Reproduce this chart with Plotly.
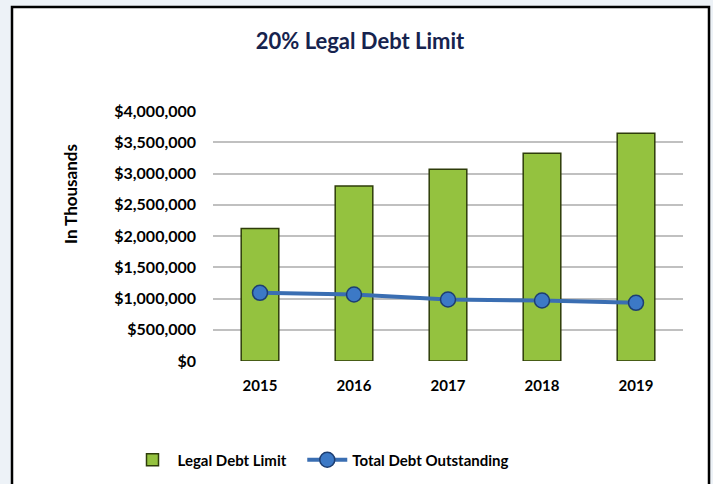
import plotly.graph_objects as go

years = ["2015", "2016", "2017", "2018", "2019"]
legal_debt_limit = [2122000, 2799000, 3070000, 3325000, 3644000]
total_debt_outstanding = [1091000, 1064000, 984000, 968000, 931000]
y_ticks = [0, 500000, 1000000, 1500000, 2000000, 2500000, 3000000, 3500000, 4000000]
y_tick_labels = ["$0", "$500,000", "$1,000,000", "$1,500,000", "$2,000,000",
                 "$2,500,000", "$3,000,000", "$3,500,000", "$4,000,000"]

W, H = 713, 484
L, R, T, B = 213, 30, 111, 123
PW, PH = W - L - R, H - T - B

def px(x):
    return (x - L) / PW

def py(y):
    return 1 - (y - T) / PH

FONT = "Lato, 'Open Sans', sans-serif"

fig = go.Figure()
fig.add_trace(go.Bar(
    x=years, y=legal_debt_limit, name="Legal Debt Limit&nbsp;&nbsp;&nbsp;",
    marker=dict(color="#94C23F", line=dict(color="#2E3C0A", width=1.5)),
))
fig.add_trace(go.Scatter(
    x=years, y=total_debt_outstanding, name="Total Debt Outstanding",
    mode="lines+markers",
    line=dict(color="#3A6EB2", width=4),
    marker=dict(size=15, color="#3C79C6", line=dict(color="#1D3E72", width=1.5)),
))

fig.update_layout(
    width=W, height=H,
    margin=dict(l=L, r=R, t=T, b=B, autoexpand=False),
    paper_bgcolor="#EDF2F7",
    plot_bgcolor="rgba(0,0,0,0)",
    bargap=0.6,
    font=dict(family=FONT, color="#000000"),
    title=dict(text="20% Legal Debt Limit", x=360 / W, xanchor="center",
               xref="container", y=1 - 41 / H, yanchor="middle", yref="container",
               font=dict(family=FONT, size=22, color="#16234E", weight="bold")),
    showlegend=True,
    legend=dict(orientation="h", xref="container", yref="container",
                x=321 / W, xanchor="center", y=1 - 460 / H, yanchor="middle",
                font=dict(family=FONT, size=15, color="#000000", weight="bold"),
                bgcolor="rgba(0,0,0,0)", itemwidth=40, tracegroupgap=0),
    shapes=[
        dict(type="rect", xref="paper", yref="paper", layer="below",
             x0=px(12), x1=px(709), y0=py(7), y1=py(495),
             fillcolor="#FFFFFF", line=dict(color="#000000", width=2.5)),
    ],
    annotations=[
        dict(text="In Thousands", xref="paper", yref="paper",
             x=px(70), y=py(194), textangle=-90, showarrow=False,
             xanchor="center", yanchor="middle",
             font=dict(family=FONT, size=17, color="#000000", weight="bold")),
    ],
)

fig.update_xaxes(
    showgrid=False, showline=False, ticks="", ticklabelstandoff=14,
    tickfont=dict(family=FONT, size=15, color="#000000", weight="bold"),
)
fig.update_yaxes(
    range=[0, 4000000], tickvals=y_ticks, ticktext=y_tick_labels,
    showgrid=True, gridcolor="#C0C0C0", gridwidth=2,
    zeroline=False, showline=False, ticks="", ticklabelstandoff=16,
    tickfont=dict(family=FONT, size=16, color="#000000", weight="bold"),
)

fig.write_html("out.html", config={"displayModeBar": False},
               post_script="document.body.style.margin='0';")
